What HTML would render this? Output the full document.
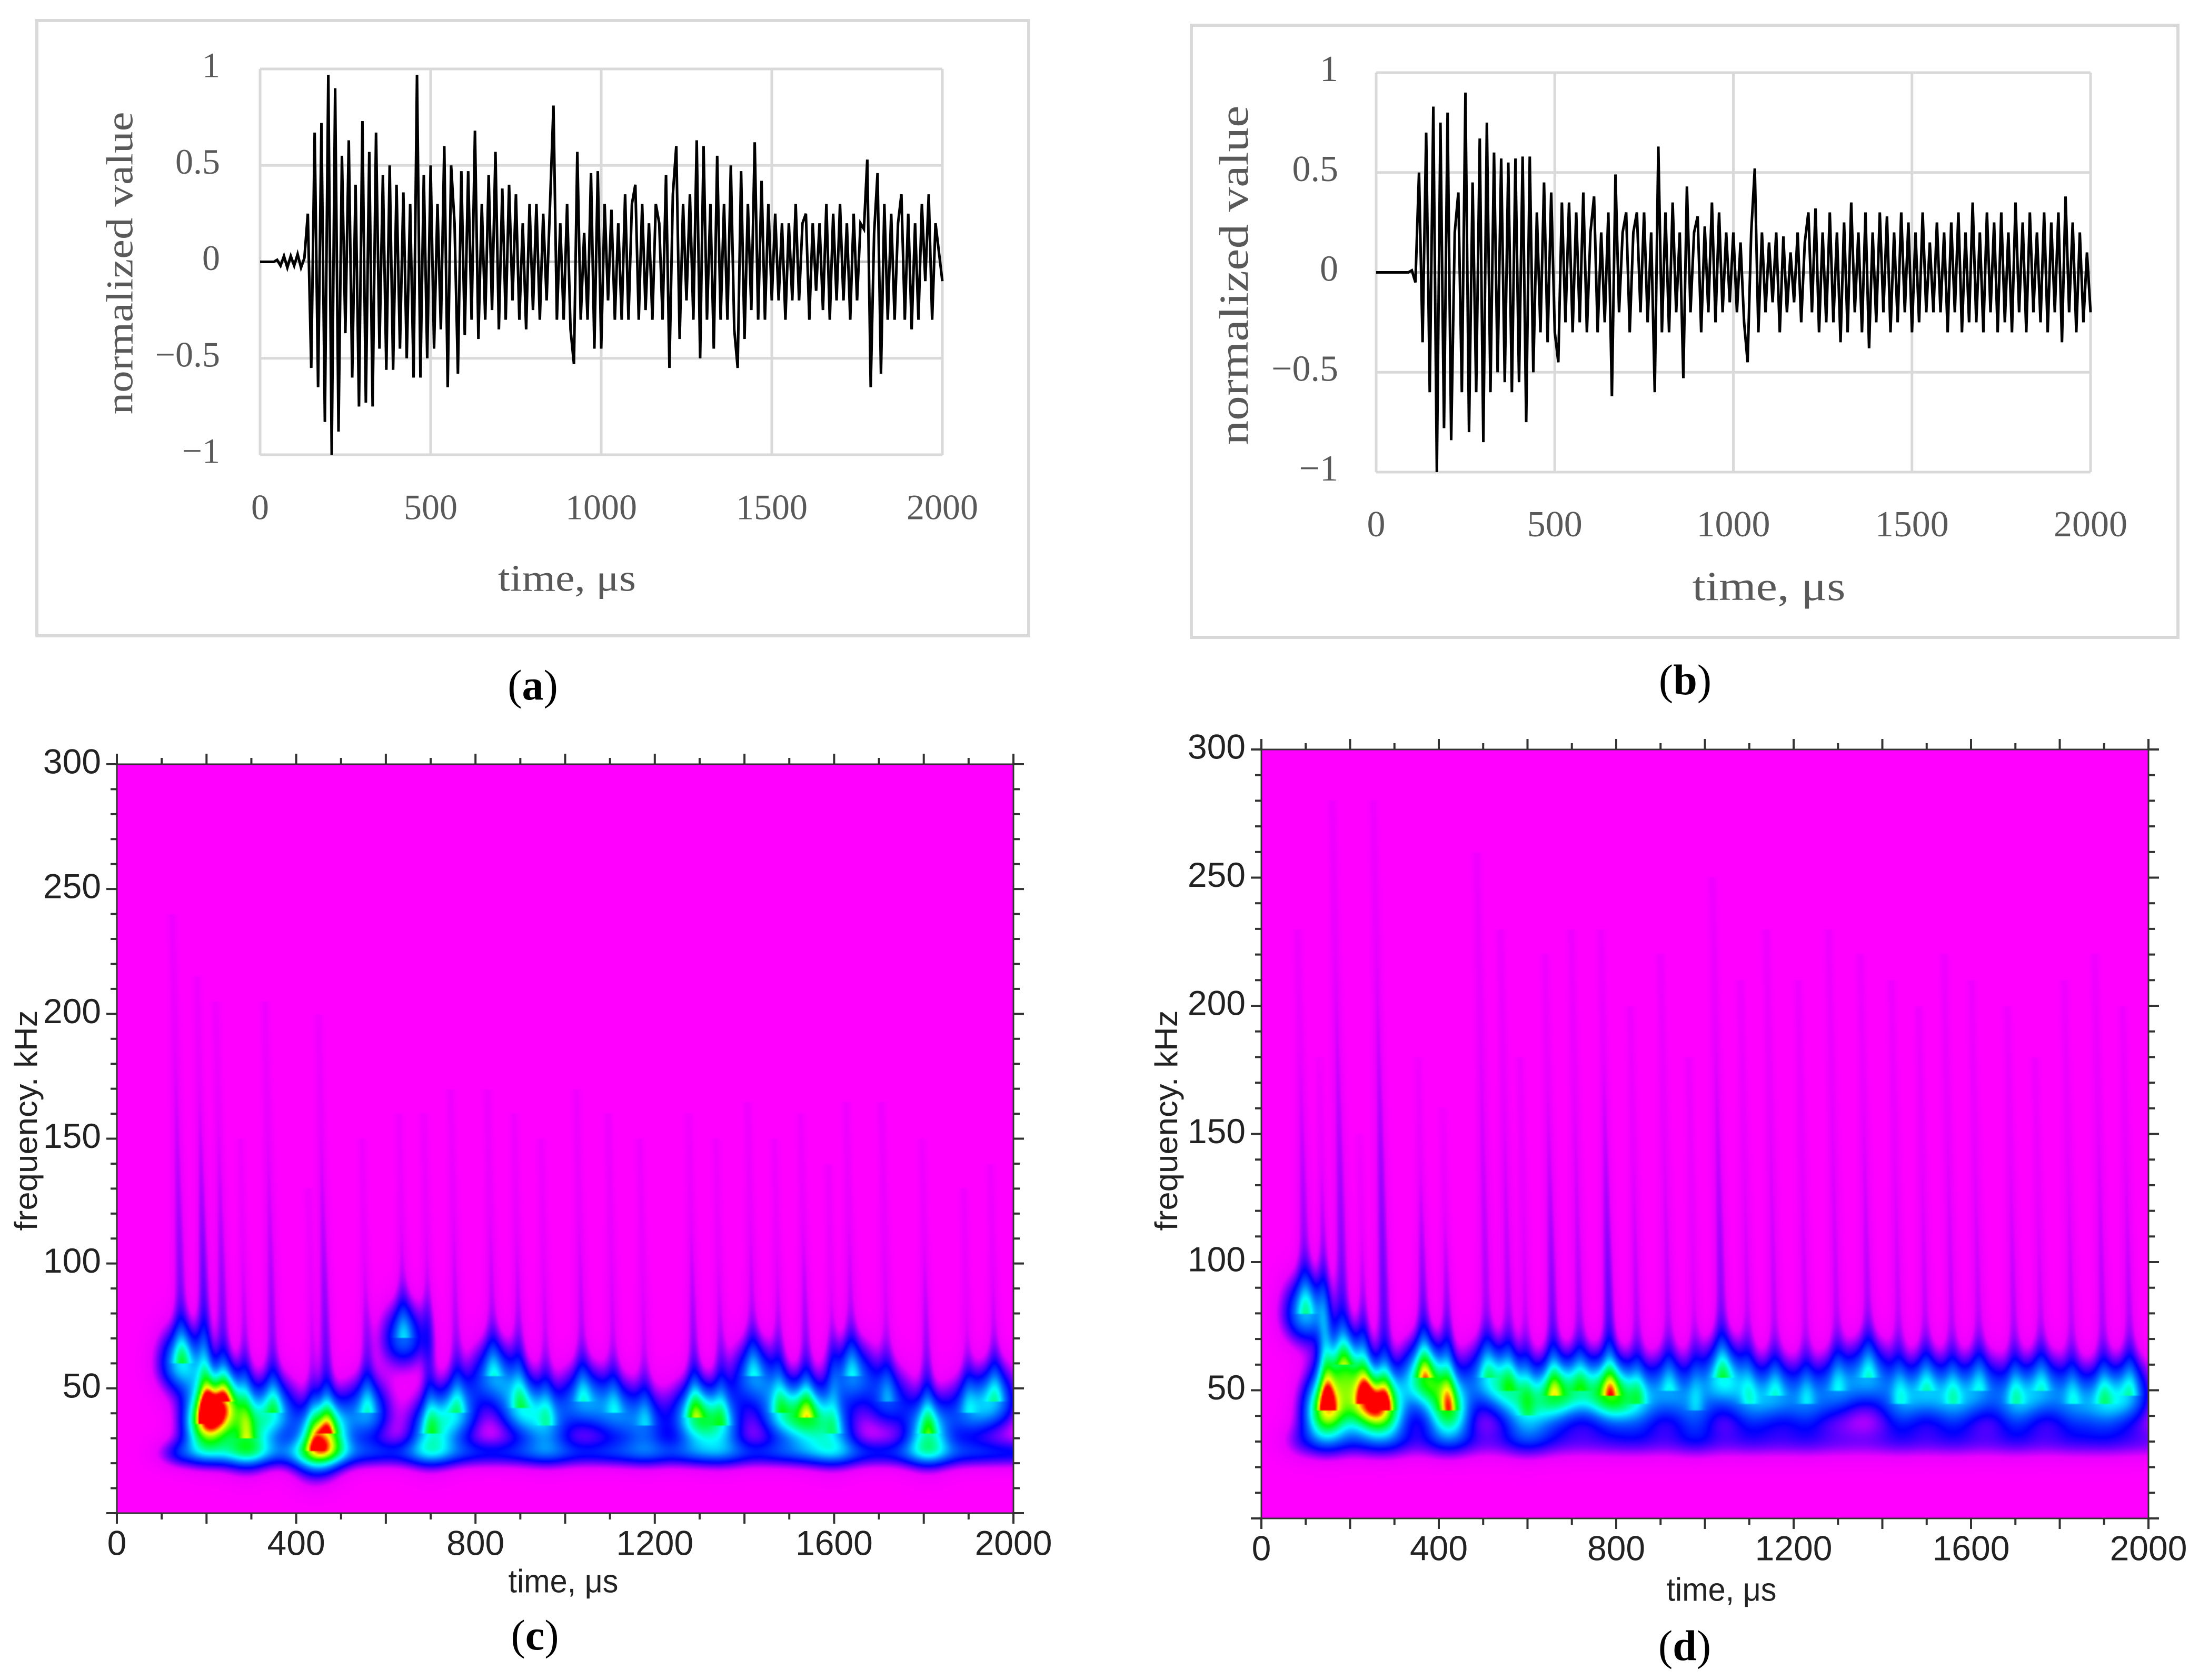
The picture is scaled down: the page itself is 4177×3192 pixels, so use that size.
<!DOCTYPE html>
<html><head><meta charset="utf-8">
<style>
html,body{margin:0;padding:0;background:#fff;}
#root{position:relative;width:4177px;height:3192px;overflow:hidden;background:#fff;}
canvas{position:absolute;}
svg{position:absolute;left:0;top:0;}
</style></head>
<body>
<div id="root">
<canvas id="cvC"></canvas>
<canvas id="cvD"></canvas>
<svg id="svg" width="4177" height="3192" viewBox="0 0 4177 3192"></svg>
</div>
<script>
// ---------- waveform data (10 µs sample step, 0..2000 µs) ----------
const waveTickX = [0, 500, 1000, 1500, 2000];
const waveTickY = [1, 0.5, 0, -0.5, -1];
const waveTickYLabels = ["1", "0.5", "0", "\u22120.5", "\u22121"];
const waveStep = 10;
const waveA = [
0,0,0,0,0,0.01,-0.02,0.03,-0.03,0.03,-0.02,0.04,-0.03,0.02,
0.25,-0.55,0.67,-0.65,0.72,-0.83,0.97,-1.0,0.9,-0.88,
0.55,-0.37,0.63,-0.6,0.4,-0.75,0.73,-0.73,0.57,-0.75,
0.67,-0.45,0.45,-0.56,0.5,-0.56,0.4,-0.45,0.36,-0.5,
0.3,-0.6,0.97,-0.6,0.45,-0.5,0.5,-0.45,0.3,-0.35,
0.6,-0.65,0.5,0.2,-0.58,0.47,-0.38,0.47,-0.3,0.68,
-0.4,0.3,-0.3,0.45,-0.25,0.57,-0.35,0.38,-0.3,0.4,
-0.2,0.35,-0.3,0.2,-0.35,0.3,-0.25,0.3,-0.3,0.25,
-0.2,0.3,0.81,-0.3,0.2,-0.3,0.3,-0.35,-0.53,0.57,
-0.3,0.15,-0.3,0.46,-0.45,0.47,-0.45,0.3,-0.2,0.27,
-0.3,0.2,-0.3,0.35,-0.3,0.3,0.4,-0.3,0.3,-0.25,
0.2,-0.3,0.3,0.2,-0.3,0.45,-0.55,0.35,0.6,-0.4,
0.3,-0.2,0.35,-0.3,0.63,-0.5,0.6,-0.3,0.3,-0.45,
0.55,-0.3,0.3,-0.3,0.5,-0.35,-0.55,0.47,-0.4,0.3,
-0.25,0.62,-0.3,0.42,-0.3,0.3,-0.2,0.25,-0.2,0.2,
-0.3,0.2,-0.2,0.3,-0.2,0.2,0.25,-0.3,0.2,-0.15,
0.2,-0.25,0.3,-0.3,0.25,-0.2,0.3,-0.2,0.2,-0.3,
0.25,-0.2,0.2,0.17,0.53,-0.65,0.15,0.46,-0.58,0.3,
-0.3,0.25,-0.3,0.2,0.35,-0.3,0.25,-0.35,0.2,-0.3,
0.3,-0.1,0.35,-0.3,0.2,0.05,-0.1];
const waveB = [
0,0,0,0,0,0,0,0,0,0,0.01,
-0.05,0.5,-0.35,0.7,-0.6,0.83,-1.0,0.75,-0.78,0.8,
-0.84,0.2,0.4,-0.6,0.9,-0.8,0.45,-0.6,0.67,-0.85,
0.75,-0.6,0.6,-0.5,0.57,-0.55,0.55,-0.6,0.57,-0.55,
0.58,-0.75,0.58,-0.5,0.3,-0.3,0.45,-0.35,0.4,-0.3,
-0.45,0.35,-0.25,0.35,-0.3,0.3,-0.25,0.4,-0.3,0.2,
0.38,-0.3,0.2,-0.25,0.3,-0.62,0.49,-0.2,0.2,0.3,
-0.3,0.2,0.3,-0.2,0.3,-0.25,0.2,-0.6,0.63,-0.3,
0.3,-0.3,0.35,-0.2,0.2,-0.53,0.43,-0.2,0.2,0.28,
-0.3,0.23,-0.2,0.35,-0.25,0.3,-0.2,0.2,-0.15,0.2,
-0.2,0.15,-0.25,-0.45,0.2,0.52,-0.3,0.2,-0.2,0.15,
-0.15,0.2,-0.3,0.18,-0.2,0.1,-0.15,0.2,-0.25,0.15,
0.3,-0.2,0.32,-0.3,0.2,-0.25,0.3,-0.25,0.2,-0.35,
0.25,-0.3,0.35,-0.2,0.2,-0.3,0.3,-0.38,0.2,-0.25,
0.3,-0.2,0.28,-0.3,0.2,-0.25,0.3,-0.2,0.25,-0.3,
0.2,-0.25,0.3,-0.2,0.15,-0.2,0.25,-0.2,0.2,-0.3,
0.25,-0.2,0.3,-0.3,0.2,-0.25,0.35,-0.25,0.2,-0.3,
0.3,-0.2,0.25,-0.3,0.3,-0.25,0.2,-0.3,0.35,-0.2,
0.25,-0.3,0.3,-0.2,0.2,-0.25,0.3,-0.3,0.25,-0.2,
0.3,-0.35,0.38,-0.2,0.25,-0.3,0.2,-0.25,0.1,-0.2];

// ---------- scalogram data ----------
const specTickX = [0, 400, 800, 1200, 1600, 2000];
const specTickY = [50, 100, 150, 200, 250, 300];
const cTimes = [145,200,240,290,350,470,440,560,640,700,760,840,900,960,1040,1110,1180,1290,1350,1420,1480,1540,1600,1640,1720,1810,1900,1960];
const cFreqs = [60,36,45,30,40,32,25,40,70,32,40,55,42,35,45,40,35,38,35,55,40,38,32,55,45,32,40,45];
const cAmps  = [0.6,1.0,0.65,0.6,0.55,0.72,0.45,0.5,0.45,0.55,0.5,0.45,0.52,0.45,0.45,0.4,0.4,0.66,0.5,0.45,0.5,0.64,0.45,0.45,0.38,0.66,0.38,0.48];
const cTops  = [210,185,175,120,175,170,100,120,130,130,140,140,130,120,140,130,120,130,120,135,120,130,110,135,135,120,100,110];
const cBand  = [24, 4, 0.25, 150];   // centre kHz, sigma kHz, amplitude, start µs
const dTimes = [100,147,186,234,281,368,423,510,560,600,660,720,787,850,920,980,1040,1100,1160,1230,1300,1370,1440,1500,1560,1620,1700,1760,1830,1900,1960];
const dFreqs = [80,42,60,45,42,55,42,55,50,40,48,50,48,45,50,42,55,45,48,45,50,55,45,50,45,50,45,50,45,45,48];
const dAmps  = [0.55,1.0,0.6,0.78,0.72,0.75,0.8,0.45,0.45,0.4,0.65,0.45,0.75,0.45,0.4,0.35,0.55,0.38,0.4,0.38,0.4,0.45,0.4,0.4,0.4,0.4,0.45,0.4,0.4,0.45,0.45];
const dTops  = [200,150,250,120,250,150,130,230,200,150,190,200,200,170,190,150,220,180,200,180,200,190,180,170,190,180,170,150,180,190,170];
const dBand  = [30, 5, 0.15, 100];

const NS = "http://www.w3.org/2000/svg";
const svg = document.getElementById('svg');
function mk(tag, attrs, parent){
  const e = document.createElementNS(NS, tag);
  for (const k in attrs) e.setAttribute(k, attrs[k]);
  (parent||svg).appendChild(e);
  return e;
}

// ---------- waveform chart ----------
function waveChart(o){
  const g = mk('g', {});
  
  
  const frame = mk('rect', {x:o.box[0], y:o.box[1], width:o.box[2]-o.box[0], height:o.box[3]-o.box[1], fill:'#fff', stroke:'#d9d9d9', 'stroke-width':6}, g);
  
  
  const sx = v => o.x0 + (v/2000)*(o.x1-o.x0);
  const sy = v => o.y0 + (1-v)/2*(o.y1-o.y0);
  waveTickX.forEach(v => {
    const l = mk('line', {x1:sx(v), x2:sx(v), y1:sy(1), y2:sy(-1), stroke:'#d9d9d9', 'stroke-width':5}, g);
    
    
    const t = mk('text', {x:sx(v), y:o.xLabY, 'text-anchor':'middle', 'font-family':'"Liberation Serif", serif', 'font-size':o.fs, fill:'#595959', 'dominant-baseline':'middle'}, g);
    t.textContent = v;
    
    
  });
  waveTickY.forEach((v,i) => {
    const l = mk('line', {x1:sx(0), x2:sx(2000), y1:sy(v), y2:sy(v), stroke: v===0 ? '#bfbfbf' : '#d9d9d9', 'stroke-width':5}, g);
    
    
    const t = mk('text', {x:o.yLabX, y:sy(v), 'text-anchor':'end', 'font-family':'"Liberation Serif", serif', 'font-size':o.fs, fill:'#595959', 'dominant-baseline':'middle'}, g);
    t.textContent = waveTickYLabels[i];
    
    
  });
  const pts = o.data.map((v,i) => sx(i*waveStep).toFixed(1)+','+sy(v).toFixed(1)).join(' ');
  const pl = mk('polyline', {points:pts, fill:'none', stroke:'#000', 'stroke-width':5, 'stroke-linejoin':'miter'}, g);
  
  
  const xt = mk('text', {x:o.xTitle[0], y:o.xTitle[1], 'text-anchor':'middle', 'font-family':'"Liberation Serif", serif', 'font-size':o.tfs, fill:'#595959', 'dominant-baseline':'middle', textLength:o.xTitleLen, lengthAdjust:'spacingAndGlyphs'}, g);
  xt.textContent = 'time, \u03bcs';
  
  
  const yt = mk('text', {x:0, y:0, 'text-anchor':'middle', 'font-family':'"Liberation Serif", serif', 'font-size':o.tfs, fill:'#595959', 'dominant-baseline':'middle', textLength:o.yTitleLen, lengthAdjust:'spacingAndGlyphs', transform:`translate(${o.yTitle[0]},${o.yTitle[1]}) rotate(-90)`}, g);
  yt.textContent = 'normalized value';
  
  
  const cap = mk('text', {x:o.cap[0], y:o.cap[1], 'text-anchor':'middle', 'font-family':'"Liberation Serif", serif', 'font-size':82, fill:'#000', 'dominant-baseline':'middle'}, svg);
  cap.innerHTML = '(<tspan font-weight="bold">'+o.letter+'</tspan>)';
  
  
}
waveChart({name:'waveform-chart-a', letter:'a', data:waveA, box:[70,39,1954,1208], x0:494, x1:1790, y0:131, y1:864,
  yLabX:418, xLabY:971, fs:68, tfs:72, xTitle:[1077,1106], xTitleLen:262, yTitle:[235,500], yTitleLen:575, cap:[1012,1310]});
waveChart({name:'waveform-chart-b', letter:'b', data:waveB, box:[2263,48,4137,1211], x0:2614, x1:3971, y0:138, y1:897,
  yLabX:2542, xLabY:1003, fs:70, tfs:78, xTitle:[3360,1122], xTitleLen:291, yTitle:[2352,523], yTitleLen:645, cap:[3201,1300]});

// ---------- scalogram ----------
const cmapV = [0, 0.08, 0.16, 0.26, 0.4, 0.55, 0.75, 0.9, 1.0];
const cmapC = [[255,0,255],[235,0,255],[120,0,255],[0,0,255],[0,110,255],[0,255,255],[0,255,0],[255,255,0],[255,0,0]];
function cmap(v){
  if (v<=0) return cmapC[0];
  if (v>=1) return cmapC[cmapC.length-1];
  for (let i=1;i<cmapV.length;i++){
    if (v<=cmapV[i]){
      const a=(v-cmapV[i-1])/(cmapV[i]-cmapV[i-1]);
      const c0=cmapC[i-1], c1=cmapC[i];
      return [c0[0]+(c1[0]-c0[0])*a, c0[1]+(c1[1]-c0[1])*a, c0[2]+(c1[2]-c0[2])*a];
    }
  }
}
function fieldVal(t,f,T,F,A,TOP,band){
  let v = 0;
  for (let i=0;i<T.length;i++){
    const dt = t-T[i], df = f-F[i];
    const sf = df<0 ? 8 : 10;
    v += A[i]*0.85*Math.exp(-(dt*dt)/(2*36*36) - (df*df)/(2*sf*sf));
    if (df>0 && f<TOP[i]+30){
      const span = TOP[i]-F[i];
      const r = df/span;
      const S = A[i]*0.3;
      const k = Math.log(S/0.07);
      const ss = 13*(1-0.5*Math.min(1,r));
      const dts = dt + df*0.12;
      v += S*Math.exp(-k*r)*Math.exp(-(dts*dts)/(2*ss*ss));
    }
  }
  const db = f-band[0];
  const ton = t>band[3] ? 1 : Math.exp(-((t-band[3])**2)/(2*40*40));
  v += band[2]*Math.exp(-(db*db)/(2*band[1]*band[1]))*ton;
  return Math.min(v, 1.2);
}
function drawScalogram(id, rect, T,F,A,TOP,band){
  const cv = document.getElementById(id);
  const W = rect[2]-rect[0], H = rect[3]-rect[1];
  cv.width = W; cv.height = H;
  cv.style.left = rect[0]+'px'; cv.style.top = rect[1]+'px';
  const lw = 560, lh = 470;
  const off = document.createElement('canvas');
  off.width = lw; off.height = lh;
  const octx = off.getContext('2d');
  const img = octx.createImageData(lw, lh);
  for (let y=0;y<lh;y++){
    const f = 300*(1-(y+0.5)/lh);
    for (let x=0;x<lw;x++){
      const t = 2000*(x+0.5)/lw;
      const c = cmap(fieldVal(t,f,T,F,A,TOP,band));
      const p = (y*lw+x)*4;
      img.data[p]=c[0]; img.data[p+1]=c[1]; img.data[p+2]=c[2]; img.data[p+3]=255;
    }
  }
  octx.putImageData(img,0,0);
  const ctx = cv.getContext('2d');
  ctx.imageSmoothingEnabled = true;
  ctx.drawImage(off,0,0,W,H);
}
function specAxes(o){
  const g = mk('g', {});
  
  
  const [x0,y0,x1,y1] = o.rect;
  const sx = v => x0 + v/2000*(x1-x0);
  const sy = v => y1 - v/300*(y1-y0);
  const fr = mk('rect', {x:x0, y:y0, width:x1-x0, height:y1-y0, fill:'none', stroke:'#333', 'stroke-width':3}, g);
  
  
  for (let v=0; v<=2000; v+=100){
    const len = v%200===0 ? 20 : 12;
    const a = mk('line', {x1:sx(v), x2:sx(v), y1:y1, y2:y1+len, stroke:'#333', 'stroke-width':4}, g);
    
    
    const b = mk('line', {x1:sx(v), x2:sx(v), y1:y0, y2:y0-len, stroke:'#333', 'stroke-width':4}, g);
    
    
  }
  for (let v=0; v<=300; v+=10){
    const len = v%50===0 ? 20 : 12;
    const a = mk('line', {x1:x0-len, x2:x0, y1:sy(v), y2:sy(v), stroke:'#333', 'stroke-width':4}, g);
    
    
    const b = mk('line', {x1:x1, x2:x1+len, y1:sy(v), y2:sy(v), stroke:'#333', 'stroke-width':4}, g);
    
    
  }
  specTickX.forEach(v => {
    const t = mk('text', {x:sx(v), y:y1+62, 'text-anchor':'middle', 'font-family':'"Liberation Sans", sans-serif', 'font-size':66, fill:'#222', 'dominant-baseline':'middle'}, g);
    t.textContent = v;
    
    
  });
  specTickY.forEach(v => {
    const t = mk('text', {x:x0-30, y:sy(v), 'text-anchor':'end', 'font-family':'"Liberation Sans", sans-serif', 'font-size':66, fill:'#222', 'dominant-baseline':'middle'}, g);
    t.textContent = v;
    
    
  });
  const xt = mk('text', {x:o.xTitle[0], y:o.xTitle[1], 'text-anchor':'middle', 'font-family':'"Liberation Sans", sans-serif', 'font-size':62, fill:'#222', 'dominant-baseline':'middle', textLength:o.xTitleLen, lengthAdjust:'spacingAndGlyphs'}, g);
  xt.textContent = 'time, \u03bcs';
  
  
  const yt = mk('text', {x:0, y:0, 'text-anchor':'middle', 'font-family':'"Liberation Sans", sans-serif', 'font-size':60, fill:'#222', 'dominant-baseline':'middle', textLength:419, lengthAdjust:'spacingAndGlyphs', transform:`translate(${o.yTitle[0]},${o.yTitle[1]}) rotate(-90)`}, g);
  yt.textContent = 'frequency. kHz';
  
  
  const cap = mk('text', {x:o.cap[0], y:o.cap[1], 'text-anchor':'middle', 'font-family':'"Liberation Serif", serif', 'font-size':82, fill:'#000', 'dominant-baseline':'middle'}, svg);
  cap.innerHTML = '(<tspan font-weight="bold">'+o.letter+'</tspan>)';
  
  
}
const rectC = [222,1452,1925,2875];
const rectD = [2396,1424,4081,2885];
drawScalogram('cvC', rectC, cTimes,cFreqs,cAmps,cTops,cBand);
drawScalogram('cvD', rectD, dTimes,dFreqs,dAmps,dTops,dBand);
specAxes({name:'scalogram-axes-c', letter:'c', rect:rectC, xTitle:[1070,3009], xTitleLen:209, yTitle:[54,2129], cap:[1016,3115]});
specAxes({name:'scalogram-axes-d', letter:'d', rect:rectD, xTitle:[3270,3025], xTitleLen:209, yTitle:[2220,2129], cap:[3200,3135]});
</script>
</body></html>
